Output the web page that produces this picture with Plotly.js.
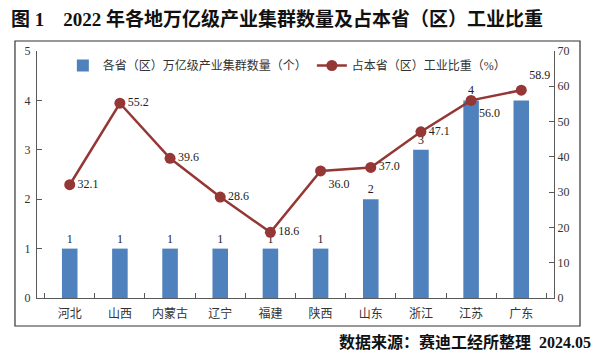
<!DOCTYPE html>
<html><head><meta charset="utf-8">
<script src="https://cdn.plot.ly/plotly-3.0.1.min.js"></script>
<style>html,body{margin:0;padding:0;background:#fff}#c{width:602px;height:360px}</style>
</head><body><div id="c"></div>
<script>
const categories = ["河北","山西","内蒙古","辽宁","福建","陕西","山东","浙江","江苏","广东"];
const clusterCounts = [1,1,1,1,1,1,2,3,4,4];
const industryShare = [32.1,55.2,39.6,28.6,18.6,36.0,37.0,47.1,56.0,58.9];
const shareLabelPos = ["middle right","middle right","middle right","middle right","middle right","bottom right","middle right","middle right","bottom right","top right"];
const barName = "各省（区）万亿级产业集群数量（个）";
const lineName = "占本省（区）工业比重（%）";
const titleText = "<b>图 1    2022 年各地万亿级产业集群数量及占本省（区）工业比重</b>";
const sourceText = "<b>数据来源：赛迪工经所整理  2024.05</b>";

const FONT = "Liberation Serif, Noto Sans CJK SC, serif";
const traces = [
  {type:"bar", x:categories, y:clusterCounts, name:barName, yaxis:"y",
   marker:{color:"#4F81BD"}, width:0.31,
   text:clusterCounts.map(String), textposition:"outside", cliponaxis:false,
   textfont:{family:FONT,size:12,color:"#222"}},
  {type:"scatter", mode:"lines+markers+text", x:categories, y:industryShare, name:lineName, yaxis:"y2",
   line:{color:"#953735",width:2.5}, marker:{color:"#953735",size:11},
   text:industryShare.map(v=>v.toFixed(1)), textposition:shareLabelPos, cliponaxis:false,
   textfont:{family:FONT,size:12,color:"#222"}}
];
const layout = {
  width:602, height:360,
  margin:{l:37, r:48, t:51, b:62},
  paper_bgcolor:"#fff", plot_bgcolor:"#fff",
  font:{family:FONT, size:12, color:"#222"},
  showlegend:true,
  legend:{orientation:"h", x:0.05, y:1.0, xanchor:"left", yanchor:"top",
          font:{family:FONT,size:12,color:"#333"}, bgcolor:"rgba(0,0,0,0)", itemwidth:30},
  xaxis:{type:"category", showline:true, linecolor:"#595959", linewidth:1.2,
         ticks:"inside", tickson:"boundaries", ticklen:5, tickcolor:"#595959", ticklabelstandoff:4,
         tickfont:{family:FONT,size:12,color:"#333"}, showgrid:false, zeroline:false},
  yaxis:{range:[0,5], dtick:1, showline:true, linecolor:"#595959", linewidth:1.2,
         ticks:"inside", ticklen:5, tickcolor:"#595959", showgrid:false, zeroline:false, ticklabelstandoff:3,
         tickfont:{family:FONT,size:12,color:"#333"}},
  yaxis2:{range:[0,70], dtick:10, overlaying:"y", side:"right", showline:true, linecolor:"#595959", linewidth:1.2,
          ticks:"inside", ticklen:5, tickcolor:"#595959", showgrid:false, zeroline:false,
          tickfont:{family:FONT,size:12,color:"#333"}},
  shapes:[{type:"rect", xref:"paper", yref:"paper", x0:-0.0426, x1:1.0503, y0:-0.1134, y1:1.0405,
           line:{color:"#333",width:1.2}, fillcolor:"rgba(0,0,0,0)"}],
  annotations:[
    {text:titleText, xref:"paper", yref:"paper", x:-0.054, y:1.13, xanchor:"left", yanchor:"middle",
     showarrow:false, font:{family:FONT,size:19,color:"#111"}},
    {text:sourceText, xref:"paper", yref:"paper", x:1.075, y:-0.18, xanchor:"right", yanchor:"middle",
     showarrow:false, font:{family:FONT,size:16,color:"#111"}}
  ]
};
Plotly.newPlot("c", traces, layout, {displayModeBar:false, staticPlot:true});
</script></body></html>
